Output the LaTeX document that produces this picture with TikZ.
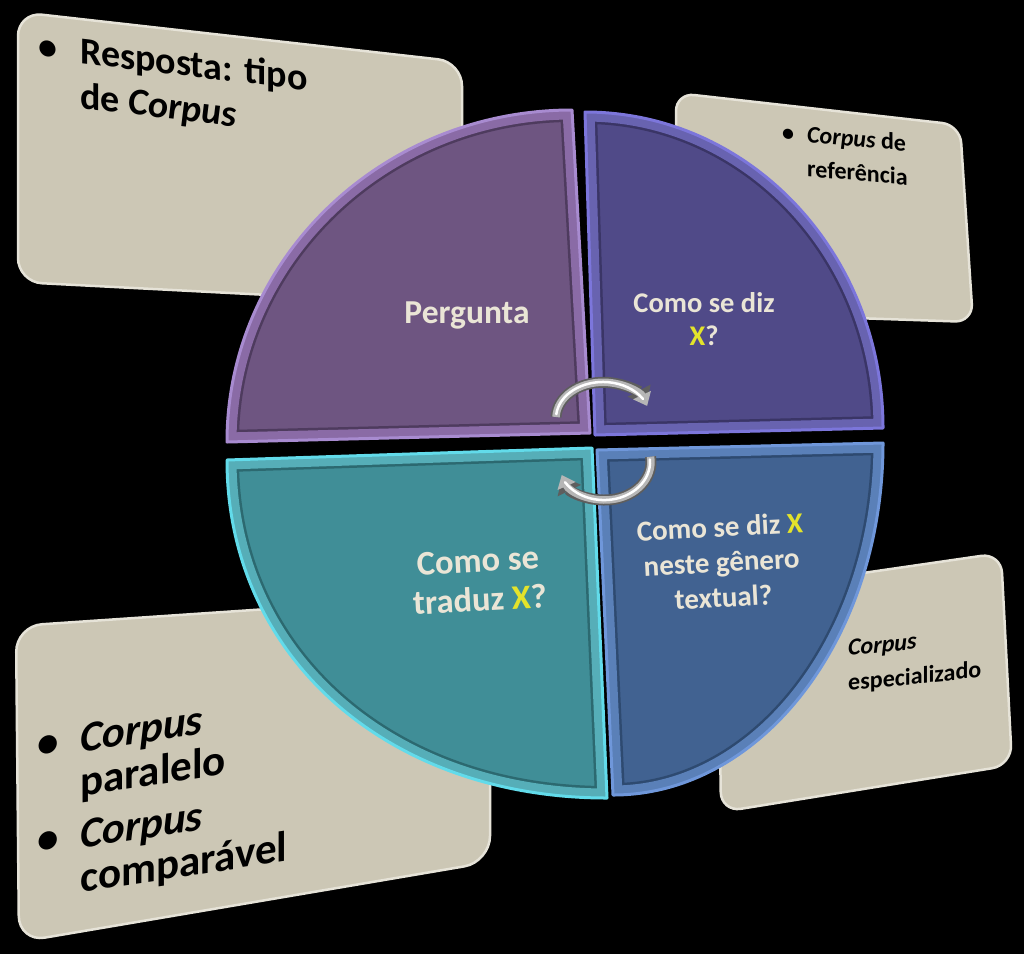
\documentclass[tikz,border=0pt]{standalone}
\usepackage{fontspec}
\setmainfont{Carlito}
\usetikzlibrary{arrows.meta}
\definecolor{boxfill}{HTML}{CCC7B5}
\definecolor{boxrim}{HTML}{E6E3D8}
\definecolor{qtxt}{HTML}{EAE5D6}
\definecolor{xyel}{HTML}{E3E32B}
\definecolor{puM}{HTML}{6E5581}\definecolor{puR}{HTML}{8A6BA6}\definecolor{puD}{HTML}{4E3B5E}\definecolor{puE}{HTML}{A88BD0}
\definecolor{viM}{HTML}{504A88}\definecolor{viR}{HTML}{6863B0}\definecolor{viD}{HTML}{3A3566}\definecolor{viE}{HTML}{7C76DB}
\definecolor{teM}{HTML}{408E97}\definecolor{teR}{HTML}{56AEB8}\definecolor{teD}{HTML}{2C6970}\definecolor{teE}{HTML}{62DBEA}
\definecolor{blM}{HTML}{416291}\definecolor{blR}{HTML}{5A80B8}\definecolor{blD}{HTML}{2E4A70}\definecolor{blE}{HTML}{6F97DA}
\definecolor{silverD}{HTML}{5E5E5E}
\definecolor{silverM}{HTML}{B6B6B6}
\newcommand\myquad[5]{%
  \fill[#2, use path=#1];
  \begin{scope}
    \clip[use path=#1];
    \draw[#4, line width=24pt, use path=#1];
    \draw[#3, line width=19pt, use path=#1];
  \end{scope}
  \draw[#5, line width=3pt, line join=round, use path=#1];
}
\begin{document}
\begin{tikzpicture}[x=1pt,y=-1pt,
  infobox/.style={fill=boxfill, draw=boxrim, line width=2.5pt},
  btxt/.style n args={2}{inner sep=0pt, anchor=north west, align=left, text=black, font=\bfseries\fontsize{#1}{#2}\selectfont},
  qlab/.style n args={2}{inner sep=0pt, anchor=north, align=center, text=qtxt, font=\bfseries\fontsize{#1}{#2}\selectfont},
  arrowout/.style={line width=11pt, draw=silverD, -{Triangle[length=16pt,width=25pt]}},
  arrowin/.style={line width=7.5pt, draw=silverM, -{Triangle[length=12pt,width=19pt]}},
  shine/.style={line width=2.5pt, draw=white, line cap=round}]
\fill[black] (0,0) rectangle (1024,954);
% info boxes
\draw[infobox, rounded corners=24pt] (18,12) -- (462,62) -- (462,305) -- (18,282) -- cycle;
\draw[infobox, rounded corners=18pt] (676,93) -- (960,125) -- (973,322) -- (676,312) -- cycle;
\draw[infobox, rounded corners=26pt] (16,626) -- (490,594) -- (490,862) -- (19,942) -- cycle;
\draw[infobox, rounded corners=20pt] (718,594) -- (1001,553) -- (1012,765) -- (721,812) -- cycle;
% box texts
\node[btxt={38}{44}, yslant=-0.12] (tl) at (38.5,27.2)
  {\strut\makebox[41.5pt][l]{•}Resposta: tipo\\[1pt]\hspace*{41.5pt}de \textit{Corpus}};
\node[btxt={24}{34}, yslant=-0.09] (tr) at (782,116)
  {\strut\makebox[25pt][l]{•}\textit{Corpus} de\\\hspace*{25pt}referência};
\node[btxt={43}{44}, yslant=0.15] (bl) at (37,727.7)
  {\strut\makebox[43pt][l]{•}\textit{Corpus}\\\hspace*{43pt}paralelo\\[8pt]\makebox[43pt][l]{•}\textit{Corpus}\\\hspace*{43pt}comparável};
\node[btxt={24}{35}, yslant=0.1] (br) at (848,631)
  {\strut\textit{Corpus}\\especializado};
% quadrants
\path[save path=\pA] (227,442) .. controls (227,259) and (382,110) .. (572,110) -- (590,433) -- cycle;
\path[save path=\pB] (585,112) .. controls (750,112) and (883,254) .. (883,428) -- (595,435) -- cycle;
\path[save path=\pC] (227,460) -- (592,448) -- (607,798) .. controls (387,798) and (227,656) .. (227,460) -- cycle;
\path[save path=\pD] (597,450) -- (883,443) .. controls (883,637) and (762,795) .. (613,795) -- cycle;
\myquad{\pA}{puM}{puR}{puD}{puE}
\myquad{\pB}{viM}{viR}{viD}{viE}
\myquad{\pC}{teM}{teR}{teD}{teE}
\myquad{\pD}{blM}{blR}{blD}{blE}
% quadrant texts
\node[qlab={33.5}{36}, anchor=base] (q1) at (467,323) {Pergunta};
\node[qlab={28.5}{33}] (q2) at (704,288.9) {\strut Como se diz\\\textcolor{xyel}{X}?};
\node[qlab={29}{35}, rotate=3] (q3) at (719,512.5) {\strut Como se diz \textcolor{xyel}{X}\\neste gênero\\textual?};
\node[qlab={34.5}{39}, rotate=3] (q4) at (477,544.7) {\strut Como se\\traduz \textcolor{xyel}{X}?};
% cycle arrows
\draw[arrowout] (556,417) arc[start angle=182, end angle=338, x radius=47, y radius=36];
\draw[arrowin] (556,417) arc[start angle=182, end angle=340, x radius=47, y radius=36];
\draw[shine] (556.3,414.2) arc[start angle=186, end angle=328, x radius=47, y radius=36];
\draw[arrowout] (650.5,456.7) arc[start angle=-8, end angle=158, x radius=46, y radius=38];
\draw[arrowin] (650.5,456.7) arc[start angle=-8, end angle=160, x radius=46, y radius=38];
\draw[shine] (649.9,459.4) arc[start angle=-4, end angle=148, x radius=46, y radius=38];
\end{tikzpicture}
\end{document}
